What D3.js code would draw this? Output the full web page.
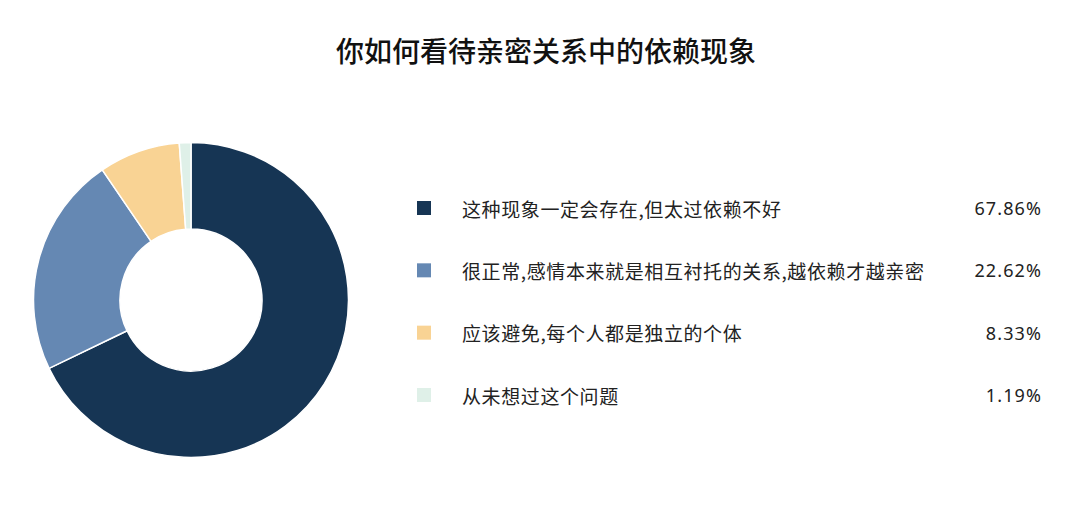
<!DOCTYPE html>
<html><head><meta charset="utf-8">
<script src="https://cdn.jsdelivr.net/npm/d3@7/dist/d3.min.js"></script>
<style>body{margin:0;background:#fff;}svg{display:block;font-family:"Noto Sans CJK SC","Noto Sans",sans-serif;}</style>
</head><body>
<svg id="c" width="1080" height="512"></svg>
<script>
const title = "你如何看待亲密关系中的依赖现象";
const categories = ["这种现象一定会存在,但太过依赖不好","很正常,感情本来就是相互衬托的关系,越依赖才越亲密","应该避免,每个人都是独立的个体","从未想过这个问题"];
const values = [67.86, 22.62, 8.33, 1.19];
const labels = ["67.86%","22.62%","8.33%","1.19%"];
const colors = ["#163554","#6588b3","#f9d394","#dff0e8"];

const svg = d3.select("#c");
svg.append("text").attr("x",546).attr("y",62).attr("text-anchor","middle")
  .attr("font-size",28).attr("font-weight",500).attr("fill","#111").text(title);

const pie = d3.pie().sort(null).value(d=>d);
const arc = d3.arc().innerRadius(71).outerRadius(157.5);
const g = svg.append("g").attr("transform","translate(191,300)");
g.selectAll("path").data(pie(values)).join("path")
  .attr("d",arc).attr("fill",(d,i)=>colors[i]).attr("stroke","#fff").attr("stroke-width",1.5);

const y = d3.scalePoint().domain(d3.range(categories.length)).range([208,395]);
const lg = svg.append("g");
categories.forEach((c,i)=>{
  lg.append("rect").attr("x",417).attr("y",y(i)-7).attr("width",14).attr("height",14).attr("fill",colors[i]);
  lg.append("text").attr("x",462).attr("y",y(i)).attr("dominant-baseline","central")
    .attr("font-size",19).attr("letter-spacing",0.6).attr("fill","#222").text(c);
  lg.append("text").attr("x",1042).attr("y",y(i)).attr("dominant-baseline","central").attr("text-anchor","end")
    .attr("font-family","'Noto Sans',sans-serif")
    .attr("font-size",18).attr("letter-spacing",1.1).attr("fill","#222").text(labels[i]);
});
</script>
</body></html>
